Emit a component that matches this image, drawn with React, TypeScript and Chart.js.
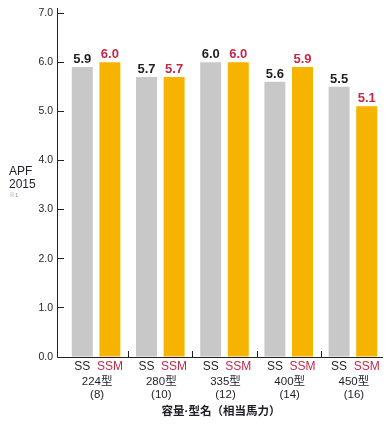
import React, { useEffect, useRef } from "react";
import { Chart, registerables } from "chart.js";

Chart.register(...registerables);

const categories = ["224型", "280型", "335型", "400型", "450型"];
const horsepower = ["(8)", "(10)", "(12)", "(14)", "(16)"];
const seriesNames = ["SS", "SSM"];
const ssValues = [5.9, 5.7, 6.0, 5.6, 5.5];
const ssmValues = [6.0, 5.7, 6.0, 5.9, 5.1];
const yTicks = [0, 1, 2, 3, 4, 5, 6, 7];
const xTitle = "容量·型名（相当馬力）";
const yTitle = ["APF", "2015"];
const yNote = "※1";

const GRAY = "#c8c8c8";
const ORANGE = "#f6b400";
const DARK = "#1e1e28";
const RED = "#c02a48";
const AXIS = "#222222";
const LATIN = "'Liberation Sans', Arial, sans-serif";
const MIXED = "'Liberation Sans', 'Noto Sans CJK JP', sans-serif";

const overlay = {
  id: "overlay",
  afterDatasetsDraw(chart: any) {
    const ctx = chart.ctx;
    const area = chart.chartArea;
    const xs = chart.scales.x;
    ctx.save();
    // value labels
    ctx.textAlign = "center";
    ctx.textBaseline = "alphabetic";
    ctx.font = `bold 13px ${LATIN}`;
    chart.data.datasets.forEach((ds: any, di: number) => {
      const meta = chart.getDatasetMeta(di);
      ctx.fillStyle = di === 0 ? DARK : RED;
      meta.data.forEach((bar: any, i: number) => {
        ctx.fillText(Number(ds.data[i]).toFixed(1), bar.x, bar.y - 4);
      });
      // series names under bars
      ctx.font = `12px ${LATIN}`;
      meta.data.forEach((bar: any) => {
        ctx.fillText(seriesNames[di], bar.x, area.bottom + 12.5);
      });
      ctx.font = `bold 13px ${LATIN}`;
    });
    // category labels
    ctx.fillStyle = DARK;
    ctx.font = `11.5px ${MIXED}`;
    categories.forEach((c, i) => {
      const cx = xs.getPixelForValue(i);
      ctx.fillText(c, cx + 1, area.bottom + 27.5);
      ctx.fillText(horsepower[i], cx + 1, area.bottom + 41);
    });
    // x title
    ctx.font = `bold 11.5px ${MIXED}`;
    ctx.fillText(xTitle, 221, area.bottom + 58);
    // y title
    ctx.textAlign = "left";
    ctx.font = `12px ${LATIN}`;
    ctx.fillText(yTitle[0], 9, 175);
    ctx.fillText(yTitle[1], 9, 188);
    ctx.fillStyle = "#999999";
    ctx.font = `6px ${MIXED}`;
    ctx.fillText(yNote, 9, 197);
    // axes lines
    ctx.strokeStyle = AXIS;
    ctx.lineWidth = 1;
    const ax = area.left - 6.5;
    ctx.beginPath();
    ctx.moveTo(ax, area.top - 5);
    ctx.lineTo(ax, area.bottom + 0.5);
    ctx.lineTo(area.right - 2, area.bottom + 0.5);
    ctx.stroke();
    // x boundary ticks
    const w = (area.right - area.left) / categories.length;
    ctx.beginPath();
    for (let k = 1; k < categories.length; k++) {
      const x = Math.round(area.left + w * k) + 0.5;
      ctx.moveTo(x, area.bottom);
      ctx.lineTo(x, area.bottom - 6);
    }
    ctx.stroke();
    ctx.restore();
  },
};

export default function App() {
  const ref = useRef<HTMLCanvasElement>(null);
  useEffect(() => {
    if (!ref.current) return;
    const chart = new Chart(ref.current, {
      type: "bar",
      data: {
        labels: categories,
        datasets: [
          {
            label: seriesNames[0],
            data: ssValues,
            backgroundColor: GRAY,
            categoryPercentage: 0.86,
            barPercentage: 0.76,
          },
          {
            label: seriesNames[1],
            data: ssmValues,
            backgroundColor: ORANGE,
            categoryPercentage: 0.86,
            barPercentage: 0.76,
          },
        ],
      },
      options: {
        responsive: false,
        animation: false,
        layout: { padding: { top: 13, right: 6, left: 0, bottom: 0 } },
        plugins: { legend: { display: false }, tooltip: { enabled: false } },
        scales: {
          x: {
            type: "category",
            ticks: { display: false },
            grid: { display: false },
            border: { display: false },
            afterFit: (s: any) => {
              s.height = 67;
            },
          },
          y: {
            min: 0,
            max: 7,
            afterBuildTicks: (s: any) => {
              s.ticks = yTicks.map((v) => ({ value: v }));
            },
            ticks: {
              callback: (v: any) => Number(v).toFixed(1),
              font: { family: LATIN, size: 10.5 },
              color: DARK,
              padding: 5,
            },
            grid: {
              drawOnChartArea: false,
              drawTicks: true,
              tickLength: 6,
              color: AXIS,
            },
            border: { display: false },
            afterFit: (s: any) => {
              s.width = 64;
            },
          },
        },
      },
      plugins: [overlay],
    });
    return () => chart.destroy();
  }, []);
  return (
    <div style={{ position: "fixed", left: 0, top: 0, width: 391, height: 424, background: "#fff" }}>
      <canvas ref={ref} width={391} height={424} />
    </div>
  );
}
